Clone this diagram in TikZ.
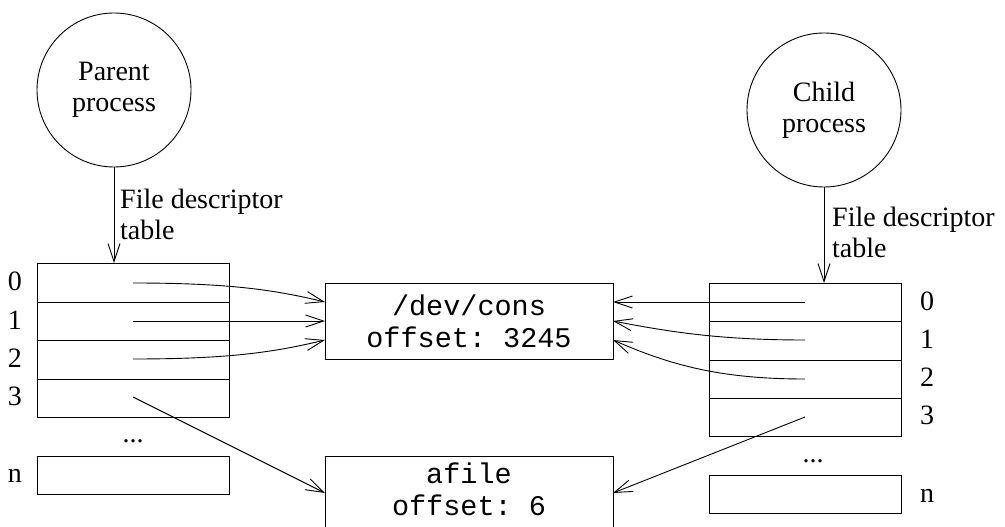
\documentclass[tikz,border=0pt]{standalone}
\usepackage{fontspec}
\setmainfont{Liberation Serif}
\setmonofont{Liberation Mono}
\usetikzlibrary{arrows.meta,calc}
\begin{document}
\begin{tikzpicture}[x=1pt,y=-1pt,
  every node/.style={font=\fontsize{28}{31}\selectfont, inner sep=0pt},
  proc/.style={draw, circle, minimum size=154pt, align=center, line width=0.9pt},
  fbox/.style={draw, minimum width=288pt, minimum height=76pt, align=center, line width=1pt, font=\ttfamily\fontsize{28.5}{32}\selectfont},
  ptr/.style={line width=0.9pt, -{Straight Barb[length=18pt,width=12pt,line width=0.9pt]}},
  tbl/.style={line width=1pt},
  lbl/.style={anchor=base},
  ann/.style={anchor=north west, align=left}
]
\useasboundingbox (0,0) rectangle (1005,527);
\clip (0,0) rectangle (1005,527);

% processes
\node[proc] (parent) at (114,90) {Parent\\process};
\node[proc] (child) at (824,110) {Child\\process};

% parent table
\draw[tbl] (37,263) rectangle (229,417);
\foreach \y in {302,340,379} \draw[tbl] (37,\y) -- (229,\y);
\draw[tbl] (37,456) rectangle (229,494);
\coordinate (ptop) at (114,263);
\node[lbl] (pl0) at (15,290) {0};
\node[lbl] (pl1) at (15,329) {1};
\node[lbl] (pl2) at (15,367) {2};
\node[lbl] (pl3) at (15,405) {3};
\node[lbl] (pdots) at (133,442) {...};
\node[lbl] (pln) at (15,482) {n};

% child table
\draw[tbl] (709,283) rectangle (901,436);
\foreach \y in {321,360,398} \draw[tbl] (709,\y) -- (901,\y);
\draw[tbl] (709,475) rectangle (901,513);
\coordinate (ctop) at (824,283);
\node[lbl] (cl0) at (927,310) {0};
\node[lbl] (cl1) at (927,348) {1};
\node[lbl] (cl2) at (927,386) {2};
\node[lbl] (cl3) at (927,424) {3};
\node[lbl] (cdots) at (813,462) {...};
\node[lbl] (cln) at (927,502) {n};

% table labels
\node[ann] (pann) at (120,189) {File descriptor\\table};
\node[ann] (cann) at (832,207) {File descriptor\\table};

\draw[ptr] (parent.south) -- (ptop);
\draw[ptr] (child.south) -- (ctop);

% file boxes
\node[fbox] (cons) at (469,321) {/dev/cons\\offset: 3245};
\draw[line width=1pt] (325,540) -- (325,456) -- (613,456) -- (613,540);
\node[align=center, font=\ttfamily\fontsize{28.5}{32}\selectfont, anchor=base] (afile) at (469,483) {afile};
\node[align=center, font=\ttfamily\fontsize{28.5}{32}\selectfont, anchor=base] (aoff) at (469,515) {offset: 6};

% pointer origins
\coordinate (p0) at (133,283);
\coordinate (p1) at (133,321);
\coordinate (p2) at (133,359);
\coordinate (p3) at (133,397);
\coordinate (c0) at (805,302);
\coordinate (c1) at (805,340);
\coordinate (c2) at (805,379);
\coordinate (c3) at (805,417);
% targets
\coordinate (consL0) at (325,302);
\coordinate (consL1) at (325,321);
\coordinate (consL2) at (325,340);
\coordinate (consR0) at (613,302);
\coordinate (consR1) at (613,321);
\coordinate (consR2) at (613,340);
\coordinate (afL) at (325,493);
\coordinate (afR) at (613,493);

\draw[ptr] (p0) .. controls (230,283) and (275,290) .. (consL0);
\draw[ptr] (p1) -- (consL1);
\draw[ptr] (p2) .. controls (230,359) and (275,352) .. (consL2);
\draw[ptr] (p3) -- (afL);
\draw[ptr] (c0) -- (consR0);
\draw[ptr] (c1) .. controls (720,340) and (670,332) .. (consR1);
\draw[ptr] (c2) .. controls (720,379) and (670,365) .. (consR2);
\draw[ptr] (c3) -- (afR);
\end{tikzpicture}
\end{document}
